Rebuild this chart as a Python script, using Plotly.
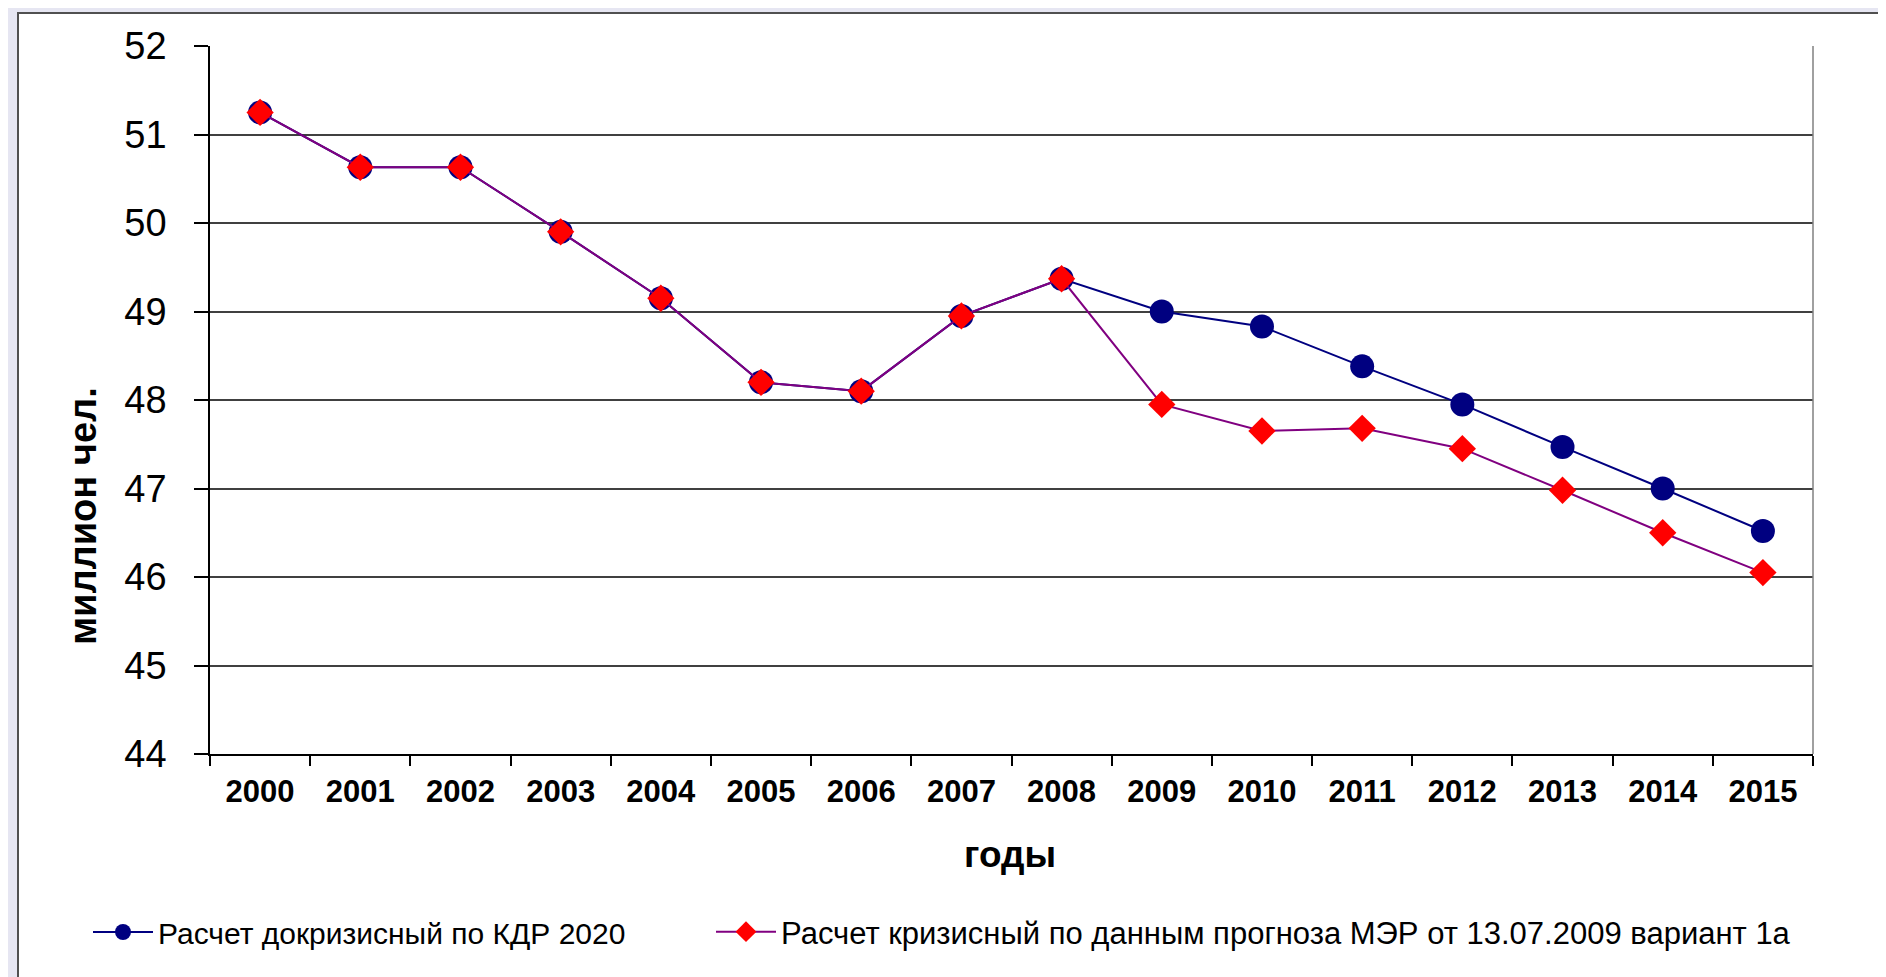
import plotly.graph_objects as go

years = [str(y) for y in range(2000, 2016)]
precrisis = [51.25, 50.63, 50.63, 49.90, 49.15, 48.20, 48.10, 48.95, 49.37,
             49.00, 48.83, 48.38, 47.95, 47.47, 47.00, 46.52]
crisis = [51.25, 50.63, 50.63, 49.90, 49.15, 48.20, 48.10, 48.95, 49.37,
          47.95, 47.65, 47.68, 47.45, 46.98, 46.50, 46.05]
y_ticks = list(range(44, 53))
name_pre = "Расчет докризисный по КДР 2020"
name_crisis = "Расчет кризисный по данным прогноза МЭР от 13.07.2009 вариант 1а"
x_title = "годы"
y_title = "миллион чел."

W, H = 1886, 977
L, R, T, B = 202, 81, 38, 231
pw = W - L - R
ph = H - T - B


def px(x):
    return (x - L) / pw


def py(y):
    return (H - B - y) / ph


FONT = "Liberation Sans, Arial, sans-serif"

fig = go.Figure()
fig.add_trace(go.Scatter(
    x=years, y=precrisis, name=name_pre, mode="lines+markers",
    line=dict(color="#000080", width=2),
    marker=dict(symbol="circle", size=24, color="#000080"),
    legend="legend",
))
fig.add_trace(go.Scatter(
    x=years, y=crisis, name=name_crisis, mode="lines+markers",
    line=dict(color="#800080", width=2),
    marker=dict(symbol="diamond", size=21, color="#FF0000"),
    legend="legend2",
))

fig.update_layout(
    width=W, height=H,
    margin=dict(l=L, r=R, t=T, b=B, pad=0, autoexpand=False),
    paper_bgcolor="#E6E6F2",
    plot_bgcolor="white",
    font=dict(family=FONT, color="black"),
    showlegend=True,
    legend=dict(x=px(80), y=py(924), xanchor="left", yanchor="middle",
                orientation="h", bgcolor="rgba(0,0,0,0)", itemwidth=60,
                font=dict(family=FONT, size=30, color="black")),
    legend2=dict(x=px(703), y=py(924), xanchor="left", yanchor="middle",
                 orientation="h", bgcolor="rgba(0,0,0,0)", itemwidth=60,
                 font=dict(family=FONT, size=31, color="black")),
    shapes=[
        dict(type="rect", xref="paper", yref="paper",
             x0=px(10), x1=px(1881), y0=py(974), y1=py(5),
             fillcolor="white", line=dict(color="#505050", width=2),
             layer="below"),
        dict(type="line", xref="paper", yref="paper",
             x0=1, x1=1, y0=0, y1=1,
             line=dict(color="#808080", width=1.5), layer="above"),
    ],
    annotations=[
        dict(text=y_title, xref="paper", yref="paper", x=px(75), y=py(508),
             showarrow=False, textangle=-90, xanchor="center", yanchor="middle",
             font=dict(family=FONT, size=38, weight="bold", color="black")),
        dict(text=x_title, xref="paper", yref="paper", x=px(1002), y=py(846),
             showarrow=False, xanchor="center", yanchor="middle",
             font=dict(family=FONT, size=37, weight="bold", color="black")),
    ],
)

fig.update_xaxes(
    type="category", range=[-0.5, 15.5], autorange=False, automargin=False,
    tickson="boundaries", ticks="outside", ticklen=10,
    tickcolor="black", tickwidth=1.5, showline=True, linecolor="black", linewidth=1.5,
    showgrid=False, ticklabelstandoff=9,
    tickfont=dict(family=FONT, size=31, weight="bold", color="black"),
)
fig.update_yaxes(
    range=[44, 52], tickvals=y_ticks, ticks="outside", ticklen=14, automargin=False,
    tickcolor="black", tickwidth=1.5, showline=True, linecolor="black", linewidth=1.5,
    showgrid=True, gridcolor="#404040", gridwidth=1.5, zeroline=False,
    ticklabelstandoff=20,
    tickfont=dict(family=FONT, size=38, color="black"),
)

fig.write_html("out.html")
